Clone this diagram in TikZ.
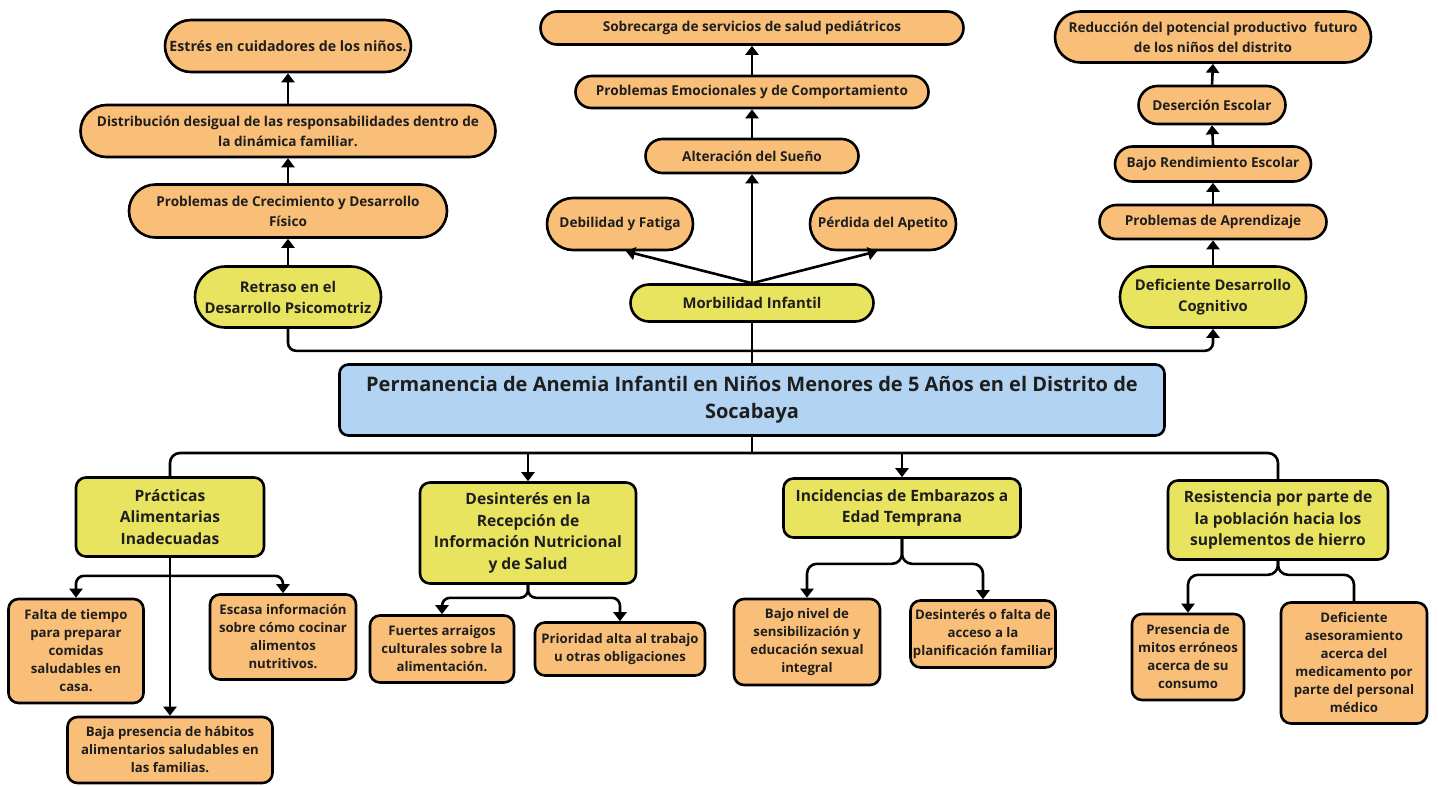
\documentclass[tikz,border=0pt]{standalone}
\usepackage{fontspec}
\setmainfont{Open Sans}
\usetikzlibrary{arrows.meta,shapes.misc}
\definecolor{efforange}{HTML}{F9BF78}
\definecolor{mainyellow}{HTML}{E9E45F}
\definecolor{probblue}{HTML}{B2D4F2}
\definecolor{inkdark}{HTML}{1E1E1E}

\begin{document}
\begin{tikzpicture}[
    x=1pt, y=-1pt,
    effect/.style={rounded rectangle, draw=black, fill=efforange, line width=2.6pt, align=center, inner sep=2pt, text=inkdark, font=\bfseries\fontsize{13.6}{20}\selectfont},
    consec/.style={rounded rectangle, draw=black, fill=mainyellow, line width=2.6pt, align=center, inner sep=2pt, text=inkdark, font=\bfseries\fontsize{14.8}{21}\selectfont},
    problem/.style={rectangle, rounded corners=9pt, draw=black, fill=probblue, line width=2.6pt, align=center, inner sep=4pt, text=inkdark, font=\bfseries\fontsize{20}{27}\selectfont},
    cause/.style={rectangle, rounded corners=10pt, draw=black, fill=mainyellow, line width=2.6pt, align=center, inner sep=2pt, text=inkdark, font=\bfseries\fontsize{15.6}{21.5}\selectfont},
    subcause/.style={rectangle, rounded corners=10pt, draw=black, fill=efforange, line width=2.6pt, align=center, inner sep=1.5pt, text=inkdark, font=\bfseries\fontsize{13.2}{18}\selectfont},
    fl/.style={-{Triangle[width=13pt,length=9pt]}, line width=2.6pt, draw=black},
    ln/.style={line width=2.6pt, draw=black}
  ]
  \useasboundingbox (0,0) rectangle (1438,785);

  % efectos, izquierda
  \node[effect]  (e1) at (288, 46)   [minimum width=250, minimum height=52, font=\bfseries\fontsize{14.2}{20}\selectfont] {Estrés en cuidadores de los niños.};
  \node[effect]  (e2) at (288, 131)  [minimum width=419, minimum height=52] {Distribución desigual de las responsabilidades dentro de\\la dinámica familiar.};
  \node[effect]  (e3) at (288, 211)  [minimum width=322, minimum height=53] {Problemas de Crecimiento y Desarrollo\\Físico};
  \node[consec]  (c1) at (288, 297)  [minimum width=190, minimum height=61] {Retraso en el\\Desarrollo Psicomotriz};

  % efectos, centro
  \node[effect]  (m1) at (752, 28)   [minimum width=427, minimum height=33] {Sobrecarga de servicios de salud pediátricos};
  \node[effect]  (m2) at (752, 92)   [minimum width=357, minimum height=32] {Problemas Emocionales y de Comportamiento};
  \node[effect]  (m3) at (752, 156)  [minimum width=217, minimum height=34] {Alteración del Sueño};
  \node[effect]  (m4) at (620, 224)  [minimum width=150, minimum height=52] {Debilidad y Fatiga};
  \node[effect]  (m5) at (883, 224)  [minimum width=150, minimum height=52] {Pérdida del Apetito};
  \node[consec]  (c2) at (752, 303)  [minimum width=247, minimum height=37] {Morbilidad Infantil};

  % efectos, derecha
  \node[effect]  (r1) at (1213, 37)  [minimum width=320, minimum height=51] {Reducción del potencial productivo \ futuro\\de los niños del distrito};
  \node[effect]  (r2) at (1212, 105) [minimum width=151, minimum height=38] {Deserción Escolar};
  \node[effect]  (r3) at (1213, 164) [minimum width=200, minimum height=35] {Bajo Rendimiento Escolar};
  \node[effect]  (r4) at (1213, 222) [minimum width=231, minimum height=34] {Problemas de Aprendizaje};
  \node[consec]  (c3) at (1213, 297) [minimum width=190, minimum height=61] {Deficiente Desarrollo\\Cognitivo};

  % problema central
  \node[problem] (pc) at (752, 400)  [minimum width=825, minimum height=71] {Permanencia de Anemia Infantil en Niños Menores de 5 Años en el Distrito de\\Socabaya};

  % causas
  \node[cause]   (k1) at (170, 517)  [minimum width=188, minimum height=79] {Prácticas\\Alimentarias\\Inadecuadas};
  \node[cause]   (k2) at (528, 533)  [minimum width=216, minimum height=101] {Desinterés en la\\Recepción de\\Información Nutricional\\y de Salud};
  \node[cause]   (k3) at (902, 508)  [minimum width=237, minimum height=59] {Incidencias de Embarazos a\\Edad Temprana};
  \node[cause]   (k4) at (1278, 520) [minimum width=220, minimum height=79] {Resistencia por parte de\\la población hacia los\\suplementos de hierro};

  % subcausas
  \node[subcause] (s1) at (76, 651)   [minimum width=135, minimum height=104] {Falta de tiempo\\para preparar\\comidas\\saludables en\\casa.};
  \node[subcause] (s2) at (283, 637)  [minimum width=146, minimum height=85] {Escasa información\\sobre cómo cocinar\\alimentos\\nutritivos.};
  \node[subcause] (s3) at (170, 750)  [minimum width=205, minimum height=66] {Baja presencia de hábitos\\alimentarios saludables en\\las familias.};
  \node[subcause] (s4) at (442, 649)  [minimum width=144, minimum height=67] {Fuertes arraigos\\culturales sobre la\\alimentación.};
  \node[subcause] (s5) at (620, 649)  [minimum width=170, minimum height=53] {Prioridad alta al trabajo\\u otras obligaciones};
  \node[subcause] (s6) at (807, 642)  [minimum width=146, minimum height=86] {Bajo nivel de\\sensibilización y\\educación sexual\\integral};
  \node[subcause] (s7) at (983, 634)  [minimum width=145, minimum height=67] {Desinterés o falta de\\acceso a la\\planificación familiar};
  \node[subcause] (s8) at (1188, 657) [minimum width=112, minimum height=86] {Presencia de\\mitos erróneos\\acerca de su\\consumo};
  \node[subcause] (s9) at (1354, 663) [minimum width=146, minimum height=121] {Deficiente\\asesoramiento\\acerca del\\medicamento por\\parte del personal\\médico};

  % conexiones superiores
  \draw[fl] (c1.north) -- (e3.south);
  \draw[fl] (e3.north) -- (e2.south);
  \draw[fl] (e2.north) -- (e1.south);
  \draw[fl] (c2.north) -- (m3.south);
  \draw[fl] (m3.north) -- (m2.south);
  \draw[fl] (m2.north) -- (m1.south);
  \draw[fl] (c2.north) -- ([xshift=6pt]m4.south);
  \draw[fl] (c2.north) -- ([xshift=-6pt]m5.south);
  \draw[fl] (c3.north) -- (r4.south);
  \draw[fl] (r4.north) -- (r3.south);
  \draw[fl] (r3.north) -- (r2.south);
  \draw[fl] (r2.north) -- (r1.south);
  \draw[fl, rounded corners=8pt] (c1.south) -- ++(0,22) -| (c3.south);
  \draw[ln] (pc.north) -- (c2.south);

  % conexiones inferiores
  \coordinate (bus) at (752, 453);
  \draw[ln] (pc.south) -- (bus);
  \draw[ln, rounded corners=10pt] (k1.north) |- (bus) -| (k4.north);
  \draw[fl] (k2.north |- bus) -- (k2.north);
  \draw[fl] (k3.north |- bus) -- (k3.north);

  \draw[fl] (k1.south) -- (s3.north);
  \draw[fl, rounded corners=8pt] ([yshift=-18pt]k1.south) -| (s1.north);
  \draw[fl, rounded corners=8pt] ([yshift=-18pt]k1.south) -| (s2.north);
  \draw[fl, rounded corners=8pt] (k2.south) -- ++(0,13) -| (s4.north);
  \draw[fl, rounded corners=8pt] (k2.south) -- ++(0,13) -| (s5.north);
  \draw[fl, rounded corners=10pt] (k3.south) -- ++(0,25) -| (s6.north);
  \draw[fl, rounded corners=10pt] (k3.south) -- ++(0,25) -| (s7.north);
  \draw[fl, rounded corners=10pt] (k4.south) -- ++(0,14) -| (s8.north);
  \draw[ln, rounded corners=10pt] (k4.south) -- ++(0,14) -| (s9.north);
\end{tikzpicture}
\end{document}
